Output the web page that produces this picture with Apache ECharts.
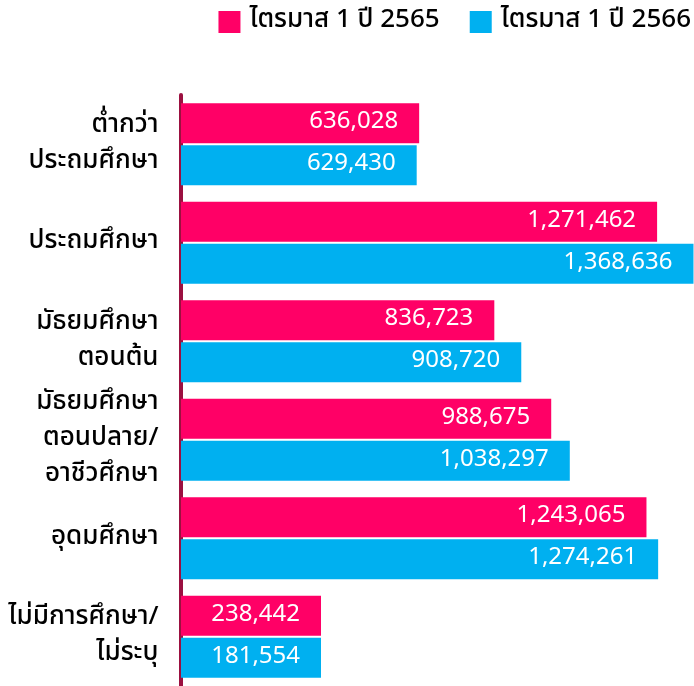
<!DOCTYPE html>
<html>
<head>
<meta charset="utf-8">
<script src="https://cdn.jsdelivr.net/npm/echarts@6/dist/echarts.min.js"></script>
<style>
  html, body { margin: 0; padding: 0; background: #fff; }
  #chart { width: 694px; height: 686px; }
</style>
</head>
<body>
<div id="chart"></div>
<script>
// ระดับการศึกษา
const categories = [
  "ต่ำกว่า\nประถมศึกษา",
  "ประถมศึกษา",
  "มัธยมศึกษา\nตอนต้น",
  "มัธยมศึกษา\nตอนปลาย/\nอาชีวศึกษา",
  "อุดมศึกษา",
  "ไม่มีการศึกษา/\nไม่ระบุ"
];
const seriesNames = ["ไตรมาส 1 ปี 2565", "ไตรมาส 1 ปี 2566"];
const values2565 = [636028, 1271462, 836723, 988675, 1243065, 238442];
const values2566 = [629430, 1368636, 908720, 1038297, 1274261, 181554];

const thaiFont = "Tahoma, 'Noto Sans Thai', 'Leelawadee UI', 'DejaVu Sans', sans-serif";
const colors = ["#ff0066", "#00b0f0"];

const chart = echarts.init(document.getElementById("chart"));

const barLabel = {
  show: true,
  position: "insideRight",
  distance: 21,
  color: "#fff",
  fontSize: 24,
  fontFamily: thaiFont,
  formatter: (p) => p.value.toLocaleString("en-US")
};

chart.setOption({
  animation: false,
  color: colors,
  legend: {
    data: seriesNames,
    top: 4,
    right: -2,
    icon: "rect",
    itemWidth: 22,
    itemHeight: 22,
    itemGap: 30,
    textStyle: {
      fontSize: 26,
      fontWeight: 500,
      color: "#000",
      fontFamily: thaiFont,
      padding: [0, 0, 0, 4]
    }
  },
  grid: {
    left: 181,
    right: 0,
    top: 95,
    bottom: -7,
    containLabel: false
  },
  xAxis: {
    type: "value",
    min: 0,
    max: 1370000,
    show: false
  },
  yAxis: {
    type: "category",
    inverse: true,
    data: categories,
    offset: 3.5,
    axisLine: { show: true, lineStyle: { color: "#9b1040", width: 4 } },
    axisTick: { show: false },
    axisLabel: {
      margin: 19,
      fontSize: 26,
      fontWeight: 500,
      lineHeight: 36,
      color: "#000",
      fontFamily: thaiFont,
      align: "right"
    }
  },
  series: [
    {
      name: seriesNames[0],
      type: "bar",
      data: values2565,
      barWidth: 40,
      barGap: "5%",
      barMinHeight: 140,
      label: barLabel
    },
    {
      name: seriesNames[1],
      type: "bar",
      data: values2566,
      barWidth: 40,
      barMinHeight: 140,
      label: barLabel
    }
  ]
});
</script>
</body>
</html>
